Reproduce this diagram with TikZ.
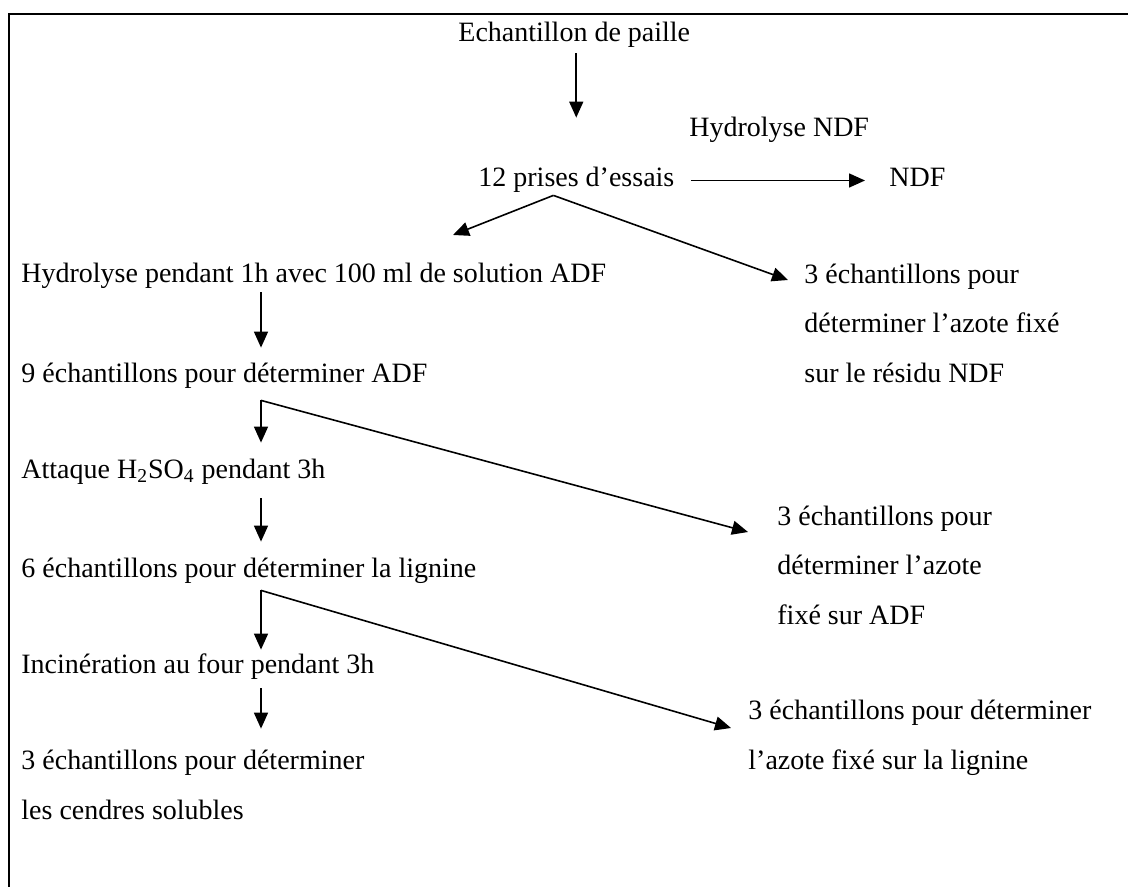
\documentclass[tikz,border=0pt]{standalone}
\usepackage{fontspec}
\setmainfont{Liberation Serif}
\usetikzlibrary{calc}
\usetikzlibrary{arrows.meta}
\tikzset{
    txt/.style={anchor=base west, inner sep=0pt, text height=9.5pt, text depth=3pt,
        font=\fontsize{14}{24.75}\selectfont},
    bloc/.style={anchor=base west, inner sep=0pt, align=left,
        font=\fontsize{14}{24.75}\selectfont},
    fleche/.style={-{Triangle[length=8pt,width=7pt]}, line width=0.8pt},
    cadre/.style={line width=1pt}
}

\begin{document}
\begin{tikzpicture}[x=0.5pt, y=-0.5pt]
    \clip (0,0) rectangle (1128,887);
    \draw[cadre] (9,14) rectangle (1140,900);
    \coordinate (col) at (261,0);

    \node[txt] (paille) at (458,42) {Echantillon de paille};
    \node[txt] (hndf) at (689,137) {Hydrolyse NDF};
    \node[txt] (prises) at (478,187) {12 prises d’essais};
    \node[txt] (ndf) at (889,187) {NDF};
    \draw[fleche, shorten <=2.5pt, shorten >=25pt] ($(paille.south)+(2,0)$) -- ($(paille.south |- prises.north)+(2,0)$);
    \draw[fleche, shorten <=8pt, shorten >=12pt] (prises.east) -- (ndf.west);

    %%%%%%

    \node[txt] (hydro) at (21,283) {Hydrolyse pendant 1h avec 100 ml de solution ADF};
    \node[bloc] (azndf) at (804,382) {3 échantillons pour\\déterminer l’azote fixé\\sur le résidu NDF};
    \coordinate (S) at ($(prises.south)+(-23,2)$);
    \coordinate (SG) at (453,235);
    \draw[fleche] (S) -- (SG);
    \draw[fleche] (S) -- ($(azndf.base west)+(-16,-102)$);

    \node[txt] (ech9) at (21,382) {9 échantillons pour déterminer ADF};
    \draw[fleche, shorten <=1.5pt, shorten >=7.5pt] (col |- hydro.south) -- (col |- ech9.north);

    %%%%%%

    \node[txt] (attaque) at (21,478) {Attaque H\textsubscript{2}SO\textsubscript{4} pendant 3h};
    \node[bloc] (azadf) at (777,624) {3 échantillons pour\\déterminer l’azote\\fixé sur ADF};
    \coordinate (F1) at ($(col |- ech9.south)+(0,12)$);
    \draw[fleche, shorten >=8pt] (F1) -- (col |- attaque.north);
    \draw[fleche] (F1) -- ($(azadf.base west)+(-29,-92)$);

    \node[txt] (ech6) at (21,577) {6 échantillons pour déterminer la lignine};
    \draw[fleche, shorten <=7pt, shorten >=8pt] (col |- attaque.south) -- (col |- ech6.north);

    %%%%%%

    \node[txt] (incin) at (21,673) {Incinération au four pendant 3h};
    \node[bloc] (azlig) at (748,769) {3 échantillons pour déterminer\\l’azote fixé sur la lignine};
    \coordinate (F2) at ($(col |- ech6.south)+(0,7)$);
    \draw[fleche, shorten >=2pt] (F2) -- (col |- incin.north);
    \draw[fleche] (F2) -- ($(azlig.base west)+(-17,-41)$);

    \node[bloc] (cendres) at (21,819) {3 échantillons pour déterminer\\les cendres solubles};
    \draw[fleche, shorten <=4.5pt, shorten >=10.5pt] (col |- incin.south) -- (col |- cendres.north);

\end{tikzpicture}
\end{document}
